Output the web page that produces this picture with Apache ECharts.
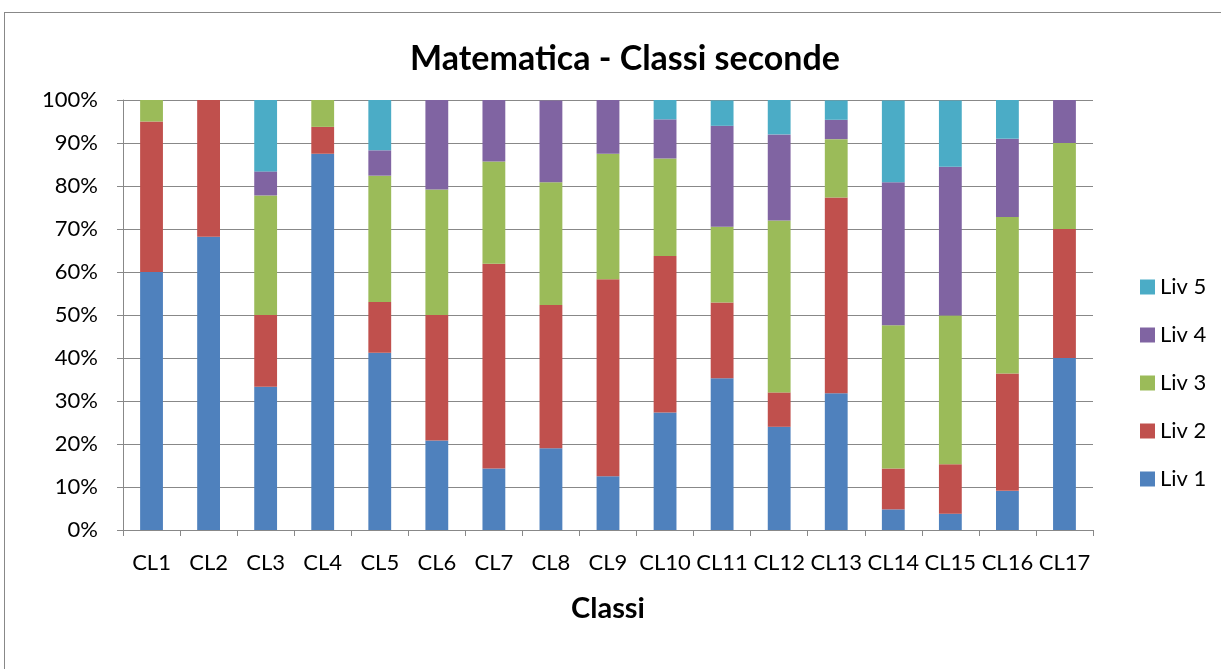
<!DOCTYPE html>
<html>
<head>
<meta charset="utf-8">
<script src="https://cdn.jsdelivr.net/npm/echarts@6/dist/echarts.min.js"></script>
<style>
html,body{margin:0;padding:0;background:#fff;overflow:hidden;}
#frame{position:absolute;left:4px;top:12px;width:1400px;height:800px;border:1px solid #888;box-sizing:border-box;}
#chart{position:absolute;left:0;top:0;width:1221px;height:669px;}
</style>
</head>
<body>
<div id="frame"></div>
<div id="chart"></div>
<script>
const categories = ['CL1','CL2','CL3','CL4','CL5','CL6','CL7','CL8','CL9','CL10','CL11','CL12','CL13','CL14','CL15','CL16','CL17'];
const liv1 = [60, 68.2, 33.3, 87.5, 41.2, 20.8, 14.3, 19.0, 12.5, 27.3, 35.3, 24, 31.8, 4.8, 3.8, 9.1, 40];
const liv2 = [35, 31.8, 16.7, 6.25, 11.8, 29.2, 47.6, 33.3, 45.8, 36.4, 17.6, 8, 45.5, 9.5, 11.5, 27.3, 30];
const liv3 = [5, 0, 27.8, 6.25, 29.4, 29.2, 23.8, 28.6, 29.2, 22.7, 17.6, 40, 13.6, 33.3, 34.6, 36.4, 20];
const liv4 = [0, 0, 5.6, 0, 5.9, 20.8, 14.3, 19.0, 12.5, 9.1, 23.5, 20, 4.5, 33.3, 34.6, 18.2, 10];
const liv5 = [0, 0, 16.7, 0, 11.8, 0, 0, 0, 0, 4.5, 5.9, 8, 4.5, 19.0, 15.4, 9.1, 0];
const seriesNames = ['Liv 1','Liv 2','Liv 3','Liv 4','Liv 5'];
const yTicks = [0,10,20,30,40,50,60,70,80,90,100];

const colors = ['#4F81BD','#C0504D','#9BBB59','#8064A2','#4BACC6'];
const font = 'Lato, "Open Sans", sans-serif';
const chart = echarts.init(document.getElementById('chart'), null, {renderer:'canvas'});
const dataSets = [liv1, liv2, liv3, liv4, liv5];
chart.setOption({
  animation:false,
  color: colors,
  title:{text:'Matematica - Classi seconde', left:620, top:37, textAlign:'center',
    textStyle:{fontFamily:font, fontSize:34, fontWeight:'bold', color:'#000'}},
  legend:{orient:'vertical', left:1135, top:271, itemWidth:15, itemHeight:15, itemGap:26,
    icon:'rect', data:seriesNames.slice().reverse(),
    textStyle:{fontFamily:font, fontSize:22, color:'#000', lineHeight:22}},
  grid:{left:123, right:128, top:100, bottom:139, containLabel:false},
  xAxis:{type:'category', data:categories, boundaryGap:true,
    name:'Classi', nameLocation:'middle', nameGap:64,
    nameTextStyle:{fontFamily:font, fontSize:29, fontWeight:'bold', color:'#000'},
    axisLine:{lineStyle:{color:'#888', width:1}},
    axisTick:{show:true, length:6, lineStyle:{color:'#888'}},
    axisLabel:{fontFamily:font, fontSize:22, color:'#000', margin:22, interval:0}},
  yAxis:{type:'value', min:0, max:100, interval:10,
    axisLine:{show:true, lineStyle:{color:'#888', width:1}},
    axisTick:{show:true, length:6, lineStyle:{color:'#888'}},
    splitLine:{lineStyle:{color:'#888', width:1}},
    axisLabel:{fontFamily:font, fontSize:22, color:'#000', margin:25,
      formatter: v => yTicks.includes(v) ? v + '%' : ''}},
  series: seriesNames.map((n,i)=>({name:n, type:'bar', stack:'total', barWidth:'40%', data:dataSets[i]}))
});
</script>
</body>
</html>
